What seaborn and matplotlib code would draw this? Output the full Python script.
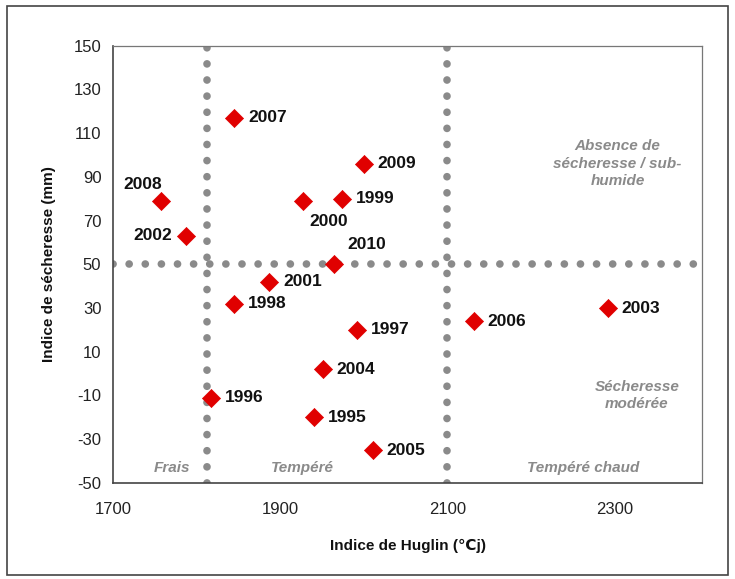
import matplotlib
matplotlib.use("Agg")
import pandas as pd
import seaborn as sns
import matplotlib.pyplot as plt
from matplotlib.patches import Rectangle

# Data
years = ['2008', '2002', '2007', '2009', '1999', '2000', '2010', '2001',
         '1998', '1997', '2004', '1996', '1995', '2005', '2006', '2003']
huglin = [1757, 1787, 1845, 2000, 1974, 1927, 1964, 1887,
          1845, 1992, 1951, 1817, 1941, 2011, 2132, 2292]
secheresse = [79, 63, 117, 96, 80, 79, 50, 42,
              32, 20, 2, -11, -20, -35, 24, 30]

huglin_limits = [1812, 2100]
secheresse_limit = 50

df = pd.DataFrame({'annee': years, 'huglin': huglin, 'secheresse': secheresse})

sns.set_theme(style="white")
plt.rcParams['font.family'] = ['Liberation Sans', 'DejaVu Sans']
plt.rcParams['axes.unicode_minus'] = False

fig = plt.figure(figsize=(7.35, 5.79), dpi=100)
ax = fig.add_axes([0.154, 0.166, 0.801, 0.755])

grey = '#8a8a8a'
dot_style = dict(color=grey, linewidth=5.5, linestyle=(0, (0.01, 2.1)),
                 dash_capstyle='round', zorder=1)
for xv in huglin_limits:
    ax.axvline(xv, **dot_style)
ax.axhline(secheresse_limit, **dot_style)

sns.scatterplot(data=df, x='huglin', y='secheresse', marker='D', s=85,
                color='#e00000', edgecolor='#e00000', linewidth=0.5,
                ax=ax, zorder=3)

# label offsets in points (default: to the right)
offsets = {'2008': (-13, 12, 'center'), '2002': (-10, 0, 'right'),
           '2000': (19, -15, 'center'), '2010': (24, 14, 'center')}
for _, row in df.iterrows():
    dx, dy, ha = offsets.get(row['annee'], (10, 0, 'left'))
    ax.annotate(row['annee'], (row['huglin'], row['secheresse']),
                xytext=(dx, dy), textcoords='offset points',
                ha=ha, va='center', fontsize=12.5, fontweight='bold',
                color='#111111', zorder=4)

zone = dict(color=grey, fontsize=11, fontstyle='italic', fontweight='bold',
            ha='center', va='center')
ax.text(1771, -43, 'Frais', **zone)
ax.text(1927, -43, 'Tempéré', **zone)
ax.text(2263, -43, 'Tempéré chaud', **zone)
ax.text(2304, 96, 'Absence de\nsécheresse / sub-\nhumide', linespacing=1.3, **zone)
ax.text(2327, -10, 'Sécheresse\nmodérée', linespacing=1.3, **zone)

ax.set_xlim(1700, 2405)
ax.set_ylim(-50, 150)
ax.set_xticks([1700, 1900, 2100, 2300])
ax.set_yticks(range(-50, 151, 20))
ax.tick_params(axis='both', direction='inout', length=9, width=1,
               color='#444444', labelsize=12, labelcolor='#222222', pad=4)
ax.tick_params(axis='x', pad=9)
for side in ['left', 'bottom']:
    ax.spines[side].set_color('#444444')
    ax.spines[side].set_linewidth(1.2)
for side in ['top', 'right']:
    ax.spines[side].set_color('#777777')
    ax.spines[side].set_linewidth(0.9)

ax.set_xlabel('Indice de Huglin (\u2103j)', fontsize=11, fontweight='bold',
              color='#111111', labelpad=16)
ax.set_ylabel('Indice de sécheresse (mm)', fontsize=11, fontweight='bold',
              color='#111111', labelpad=13)

fig.patches.append(Rectangle((0.009, 0.007), 0.982, 0.983, transform=fig.transFigure,
                             fill=False, edgecolor='#444444', linewidth=1.2))

fig.savefig('out.png', dpi=100)
plt.close()
